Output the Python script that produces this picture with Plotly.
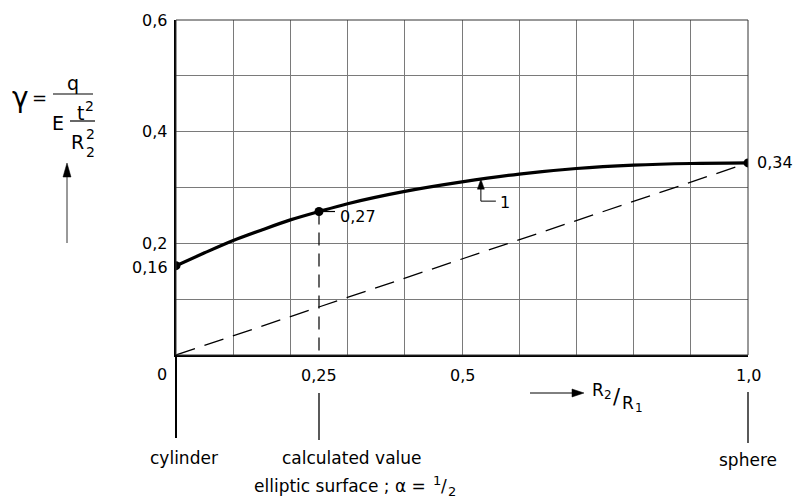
import plotly.graph_objects as go

# ---------------- data ----------------
curve_x = [0, 0.05, 0.1, 0.15, 0.2, 0.25, 0.3, 0.4, 0.5, 0.6, 0.7, 0.8, 0.9, 1.0]
curve_y = [0.160, 0.183, 0.205, 0.224, 0.242, 0.257, 0.271, 0.293, 0.310, 0.324, 0.334, 0.340, 0.343, 0.344]

key_x = [0, 0.25, 1.0]
key_y = [0.160, 0.257, 0.344]
key_labels = ["0,16", "0,27", "0,34"]

ref_x = [0, 1.0]
ref_y = [0.0, 0.344]

x_tick_vals = [0, 0.25, 0.5, 1.0]
x_tick_text = ["0", "0,25", "0,5", "1,0"]
y_tick_vals = [0.2, 0.4, 0.6]
y_tick_text = ["0,2", "0,4", "0,6"]

case_x = [0, 0.25, 1.0]
case_labels = ["cylinder", "calculated value", "sphere"]
case_sub = "elliptic surface ; α ="

curve_label = "1"
curve_label_x = 0.533
curve_label_y = 0.315

FONT = "DejaVu Sans"
W, H = 795, 498
L, R, T, B = 176, 47, 20, 143
PW, PH = W - L - R, H - T - B


def px(xp):
    return (xp - L) / PW


def py(yp):
    return (H - B - yp) / PH


fig = go.Figure()

# dashed reference line
fig.add_trace(go.Scatter(x=ref_x, y=ref_y, mode="lines",
                         line=dict(color="black", width=1.3, dash="20px,10px"),
                         hoverinfo="skip", showlegend=False))
# dashed vertical at calculated value
fig.add_trace(go.Scatter(x=[key_x[1], key_x[1]], y=[key_y[1], 0], mode="lines",
                         line=dict(color="black", width=1.2, dash="13px,8px"),
                         hoverinfo="skip", showlegend=False))
# main curve
fig.add_trace(go.Scatter(x=curve_x, y=curve_y, mode="lines",
                         line=dict(color="black", width=3.2, shape="spline", smoothing=0.8),
                         hoverinfo="skip", showlegend=False))
# key points
fig.add_trace(go.Scatter(x=key_x, y=key_y, mode="markers",
                         marker=dict(color="black", size=9),
                         hoverinfo="skip", showlegend=False))

ann = []
shapes = []

# frame (top/right thin)
shapes.append(dict(type="rect", xref="paper", yref="paper", x0=0, x1=1, y0=0, y1=1,
                   line=dict(color="#333", width=1)))

# y tick labels
for v, t in zip(y_tick_vals, y_tick_text):
    ann.append(dict(x=0, y=v, xref="paper", yref="y", text=t, showarrow=False,
                    xanchor="right", yanchor="middle", xshift=-7,
                    font=dict(family=FONT, size=16, color="black")))

# x tick labels
for v, t in zip(x_tick_vals, x_tick_text):
    if v == 0:
        ann.append(dict(x=v, y=py(374), xref="x", yref="paper", text=t, showarrow=False,
                        xanchor="right", yanchor="middle", xshift=-7,
                        font=dict(family=FONT, size=16, color="black")))
    else:
        ann.append(dict(x=v, y=py(375), xref="x", yref="paper", text=t, showarrow=False,
                        xanchor="center", yanchor="middle",
                        font=dict(family=FONT, size=16, color="black")))

# point labels
ann.append(dict(x=key_x[0], y=key_y[0], xref="x", yref="y", text=key_labels[0], showarrow=False,
                xanchor="right", yanchor="middle", xshift=-6, yshift=-2,
                font=dict(family=FONT, size=16, color="black")))
ann.append(dict(x=key_x[1], y=key_y[1], xref="x", yref="y", text=key_labels[1], showarrow=False,
                xanchor="left", yanchor="middle", xshift=19, yshift=-5,
                font=dict(family=FONT, size=16, color="black")))
shapes.append(dict(type="line", xref="x", yref="y", xsizemode="pixel", ysizemode="pixel",
                   xanchor=key_x[1], yanchor=key_y[1], x0=4, x1=16, y0=0, y1=0,
                   line=dict(color="black", width=1.2)))
ann.append(dict(x=key_x[2], y=key_y[2], xref="x", yref="y", text=key_labels[2], showarrow=False,
                xanchor="left", yanchor="middle", xshift=7,
                font=dict(family=FONT, size=16, color="black")))

# curve label "1" with leader and arrow
shapes.append(dict(type="path", xref="x", yref="y", xsizemode="pixel", ysizemode="pixel",
                   xanchor=curve_label_x, yanchor=curve_label_y,
                   path="M0,-8 L0,-22 L15,-22", line=dict(color="black", width=1)))
shapes.append(dict(type="path", xref="x", yref="y", xsizemode="pixel", ysizemode="pixel",
                   xanchor=curve_label_x, yanchor=curve_label_y,
                   path="M0,0 L-3.5,-10 L3.5,-10 Z", fillcolor="black",
                   line=dict(color="black", width=0.5)))
ann.append(dict(x=curve_label_x, y=curve_label_y, xref="x", yref="y", text=curve_label,
                showarrow=False, xanchor="left", yanchor="middle", xshift=17, yshift=-23,
                font=dict(family=FONT, size=16, color="black")))

# vertical lines below axis
shapes.append(dict(type="line", xref="paper", yref="paper", x0=case_x[0], x1=case_x[0],
                   y0=0, y1=py(438), line=dict(color="black", width=2)))
shapes.append(dict(type="line", xref="paper", yref="paper", x0=case_x[1], x1=case_x[1],
                   y0=py(393), y1=py(440), line=dict(color="black", width=1.3)))
shapes.append(dict(type="line", xref="paper", yref="paper", x0=case_x[2], x1=case_x[2],
                   y0=py(392), y1=py(443), line=dict(color="black", width=1.3)))


def ptext(xp, yp, t, size=16, anchor="center"):
    ann.append(dict(x=px(xp), y=py(yp), xref="paper", yref="paper", text=t, showarrow=False,
                    xanchor=anchor, yanchor="middle",
                    font=dict(family=FONT, size=size, color="black")))


# case labels
ann.append(dict(x=case_x[0], y=py(458), xref="x", yref="paper", text=case_labels[0],
                showarrow=False, xanchor="center", yanchor="middle", xshift=8,
                font=dict(family=FONT, size=17, color="black")))
ann.append(dict(x=case_x[1], y=py(458), xref="x", yref="paper", text=case_labels[1],
                showarrow=False, xanchor="center", yanchor="middle", xshift=33,
                font=dict(family=FONT, size=17, color="black")))
ptext(428, 486, case_sub, 17, "right")
ptext(437, 480, "1", 13)
ptext(444, 486, "/", 17)
ptext(452, 491, "2", 13)
ann.append(dict(x=case_x[2], y=py(460), xref="x", yref="paper", text=case_labels[2],
                showarrow=False, xanchor="center", yanchor="middle",
                font=dict(family=FONT, size=17, color="black")))


def arrow_shapes(x0p, y0p, x1p, y1p, head=10, half=3.5, width=1):
    # line from (x0p,y0p) to tip (x1p,y1p) in picture pixels, with filled head
    dx, dy = x1p - x0p, y1p - y0p
    n = (dx * dx + dy * dy) ** 0.5
    ux, uy = dx / n, dy / n
    bx, by = x1p - ux * head, y1p - uy * head
    shapes.append(dict(type="line", xref="paper", yref="paper",
                       x0=px(x0p), y0=py(y0p), x1=px(bx), y1=py(by),
                       line=dict(color="black", width=width)))
    pts = [(x1p, y1p), (bx - uy * half, by + ux * half), (bx + uy * half, by - ux * half)]
    path = "M" + " L".join(f"{px(a):.5f},{py(b):.5f}" for a, b in pts) + " Z"
    shapes.append(dict(type="path", xref="paper", yref="paper", path=path,
                       fillcolor="black", line=dict(color="black", width=0.5)))


# x axis title arrow  -> R2/R1
arrow_shapes(530, 393, 584, 393, head=12, half=4)
ptext(598, 390, "R", 17)
ptext(608, 395, "2", 12)
ptext(617, 397, "/", 21)
ptext(628, 403, "R", 17)
ptext(639, 408, "1", 12)

# y axis title formula
ptext(20, 98, "γ", 28)
ptext(39, 97, "=", 18)
ptext(73, 83, "q", 19)
ptext(58, 123, "E", 19)
ptext(80, 113, "t", 19)
ptext(89, 106, "2", 14)
ptext(77, 142, "R", 19)
ptext(90, 134, "2", 14)
ptext(90, 152, "2", 14)
shapes.append(dict(type="line", xref="paper", yref="paper", x0=px(53), x1=px(93),
                   y0=py(94), y1=py(94), line=dict(color="black", width=1.2)))
shapes.append(dict(type="line", xref="paper", yref="paper", x0=px(70), x1=px(95),
                   y0=py(121), y1=py(121), line=dict(color="black", width=1.2)))
arrow_shapes(67, 243, 67, 163, head=14, half=4, width=0.8)

fig.update_layout(
    width=W, height=H,
    margin=dict(l=L, r=R, t=T, b=B, pad=0),
    paper_bgcolor="white", plot_bgcolor="white",
    showlegend=False,
    annotations=ann, shapes=shapes,
    xaxis=dict(range=[0, 1.0], dtick=0.1, tick0=0, showgrid=True, gridcolor="#7a7a7a",
               gridwidth=1, zeroline=False, showline=True, linecolor="black", linewidth=2,
               showticklabels=False, ticks="", fixedrange=True),
    yaxis=dict(range=[0, 0.6], dtick=0.1, tick0=0, showgrid=True, gridcolor="#7a7a7a",
               gridwidth=1, zeroline=False, showline=True, linecolor="black", linewidth=2,
               showticklabels=False, ticks="", fixedrange=True),
)

fig.write_html("out.html")
